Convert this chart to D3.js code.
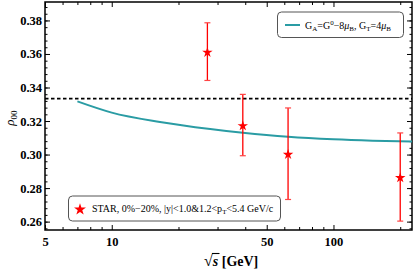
<!DOCTYPE html>
<html>
<head>
<meta charset="utf-8">
<script src="https://cdn.jsdelivr.net/npm/d3@7"></script>
<style>
  body { margin: 0; background: #fff; }
  text { font-family: "Liberation Serif", "Times New Roman", serif; }
  .tick text { font-weight: bold; font-size: 12.5px; fill: #000; }
  .tick line { stroke: #000; stroke-width: 1; }
</style>
</head>
<body>
<svg id="chart"></svg>
<script>
// STAR data (sqrt(s) in GeV, rho00, error)
var starEnergy = [27, 39, 62.4, 200];
var starRho = [0.3614, 0.3176, 0.3005, 0.2866];
var starErr = [0.0172, 0.0183, 0.0273, 0.0263];

// model curve
var modelEnergy = [7.0, 10, 16.5, 27.8, 39, 62.4, 100, 150, 226];
var modelRho = [0.3317, 0.3250, 0.3194, 0.3152, 0.3130, 0.3106, 0.3091, 0.3083, 0.3078];

var xMajor = [5, 10, 50, 100];
var xMinor = [6, 7, 8, 9, 20, 30, 40, 60, 70, 80, 90, 200];
var yMajor = [0.26, 0.28, 0.30, 0.32, 0.34, 0.36, 0.38];
var yMinor = [];
for (var v = 0.256; v < 0.39; v += 0.004) yMinor.push(+v.toFixed(3));

var width = 415, height = 272;
var pLeft = 45, pRight = 412, pTop = 2, pBottom = 230;

var svg = d3.select("#chart")
	.attr("width", width)
	.attr("height", height);

var x = d3.scaleLog().domain([5, 226]).range([pLeft, pRight]);
var y = d3.scaleLinear().domain([0.255, 0.391]).range([pBottom, pTop]);

// axes, ticks inward on all four sides
function addAxis(axis, tx, ty, labels) {
	var g = svg.append("g")
		.attr("transform", "translate(" + tx + "," + ty + ")")
		.call(axis);
	g.select(".domain").remove();
	if (!labels) g.selectAll("text").remove();
	return g;
}

addAxis(d3.axisBottom(x).tickValues(xMajor).tickSize(-5).tickPadding(7).tickFormat(d3.format("d")), 0, pBottom, true);
addAxis(d3.axisBottom(x).tickValues(xMinor).tickSize(-3).tickFormat(""), 0, pBottom, false);
addAxis(d3.axisTop(x).tickValues(xMajor).tickSize(-5), 0, pTop, false);
addAxis(d3.axisTop(x).tickValues(xMinor).tickSize(-3), 0, pTop, false);

addAxis(d3.axisLeft(y).tickValues(yMajor).tickSize(-5).tickPadding(3).tickFormat(d3.format(".2f")), pLeft, 0, true);
addAxis(d3.axisLeft(y).tickValues(yMinor).tickSize(-2.5).tickFormat(""), pLeft, 0, false);
addAxis(d3.axisRight(y).tickValues(yMajor).tickSize(-5), pRight, 0, false);
addAxis(d3.axisRight(y).tickValues(yMinor).tickSize(-2.5), pRight, 0, false);

// frame
svg.append("rect")
	.attr("x", pLeft).attr("y", pTop)
	.attr("width", pRight - pLeft).attr("height", pBottom - pTop)
	.attr("fill", "none").attr("stroke", "#000").attr("stroke-width", 1.5);

// 1/3 line
svg.append("line")
	.attr("x1", pLeft).attr("x2", pRight)
	.attr("y1", y(1 / 3)).attr("y2", y(1 / 3))
	.attr("stroke", "#000").attr("stroke-width", 1.8)
	.attr("stroke-dasharray", "3.5,2.5");

// model curve
var line = d3.line()
	.x(function(d, i){ return x(modelEnergy[i]); })
	.y(function(d){ return y(d); })
	.curve(d3.curveMonotoneX);

svg.append("path")
	.datum(modelRho)
	.attr("d", line)
	.attr("fill", "none")
	.attr("stroke", "#2a9ca4")
	.attr("stroke-width", 2);

// STAR error bars and stars
var pts = svg.append("g").selectAll("g")
	.data(starRho)
	.enter()
		.append("g");

pts.append("line")
	.attr("x1", function(d, i){ return x(starEnergy[i]); })
	.attr("x2", function(d, i){ return x(starEnergy[i]); })
	.attr("y1", function(d, i){ return y(d + starErr[i]); })
	.attr("y2", function(d, i){ return y(d - starErr[i]); })
	.attr("stroke", "#f00").attr("stroke-width", 1.3);

[1, -1].forEach(function(s){
	pts.append("line")
		.attr("x1", function(d, i){ return x(starEnergy[i]) - 3; })
		.attr("x2", function(d, i){ return x(starEnergy[i]) + 3; })
		.attr("y1", function(d, i){ return y(d + s * starErr[i]); })
		.attr("y2", function(d, i){ return y(d + s * starErr[i]); })
		.attr("stroke", "#f44").attr("stroke-width", 1.2);
});

var star = d3.symbol().type(d3.symbolStar).size(34);
pts.append("path")
	.attr("d", star)
	.attr("transform", function(d, i){ return "translate(" + x(starEnergy[i]) + "," + (y(d) + 0.8) + ")"; })
	.attr("fill", "#f00");

// legend: model
svg.append("rect")
	.attr("x", 277.5).attr("y", 12)
	.attr("width", 126).attr("height", 25.5)
	.attr("rx", 4)
	.attr("fill", "#fff").attr("stroke", "#555").attr("stroke-width", 1);

svg.append("line")
	.attr("x1", 285).attr("x2", 300)
	.attr("y1", 25).attr("y2", 25)
	.attr("stroke", "#2a9ca4").attr("stroke-width", 2);

var t1 = svg.append("text")
	.attr("x", 305).attr("y", 28.5)
	.attr("font-size", 10);
t1.append("tspan").text("G");
t1.append("tspan").attr("font-size", 7).attr("dy", 2).text("A");
t1.append("tspan").attr("dy", -2).text("=G");
t1.append("tspan").attr("font-size", 7).attr("dy", -3.5).text("0");
t1.append("tspan").attr("dy", 3.5).text("\u22128");
t1.append("tspan").attr("font-style", "italic").text("\u03bc");
t1.append("tspan").attr("font-size", 7).attr("dy", 2).text("B");
t1.append("tspan").attr("dy", -2).text(", G");
t1.append("tspan").attr("font-size", 7).attr("dy", 2).text("T");
t1.append("tspan").attr("dy", -2).text("=4");
t1.append("tspan").attr("font-style", "italic").text("\u03bc");
t1.append("tspan").attr("font-size", 7).attr("dy", 2).text("B");

// legend: STAR
svg.append("rect")
	.attr("x", 68.5).attr("y", 196)
	.attr("width", 212).attr("height", 25)
	.attr("rx", 4)
	.attr("fill", "#fff").attr("stroke", "#555").attr("stroke-width", 1);

svg.append("path")
	.attr("d", d3.symbol().type(d3.symbolStar).size(44))
	.attr("transform", "translate(80,209.5)")
	.attr("fill", "#f00");

var t2 = svg.append("text")
	.attr("x", 92).attr("y", 212)
	.attr("font-size", 10);
t2.append("tspan").text("STAR, 0%\u221220%, |y|<1.0&1.2<p");
t2.append("tspan").attr("font-size", 7).attr("dy", 2).text("T");
t2.append("tspan").attr("dy", -2).text("<5.4 GeV/c");

// axis titles
var xt = svg.append("text")
	.attr("x", 204).attr("y", 266)
	.attr("font-size", 14).attr("font-weight", "bold");
xt.append("tspan").attr("font-size", 16).text("\u221a");
xt.append("tspan").attr("font-style", "italic").text("s");
xt.append("tspan").text(" [GeV]");
svg.append("line")
	.attr("x1", 212).attr("x2", 219.5)
	.attr("y1", 253.5).attr("y2", 253.5)
	.attr("stroke", "#000").attr("stroke-width", 1.1);

var yt = svg.append("text")
	.attr("transform", "translate(14,118) rotate(-90)")
	.attr("text-anchor", "middle")
	.attr("font-size", 13);
yt.append("tspan").attr("font-style", "italic").text("\u03c1");
yt.append("tspan").attr("font-size", 9).attr("dy", 3).text("00");
</script>
</body>
</html>
